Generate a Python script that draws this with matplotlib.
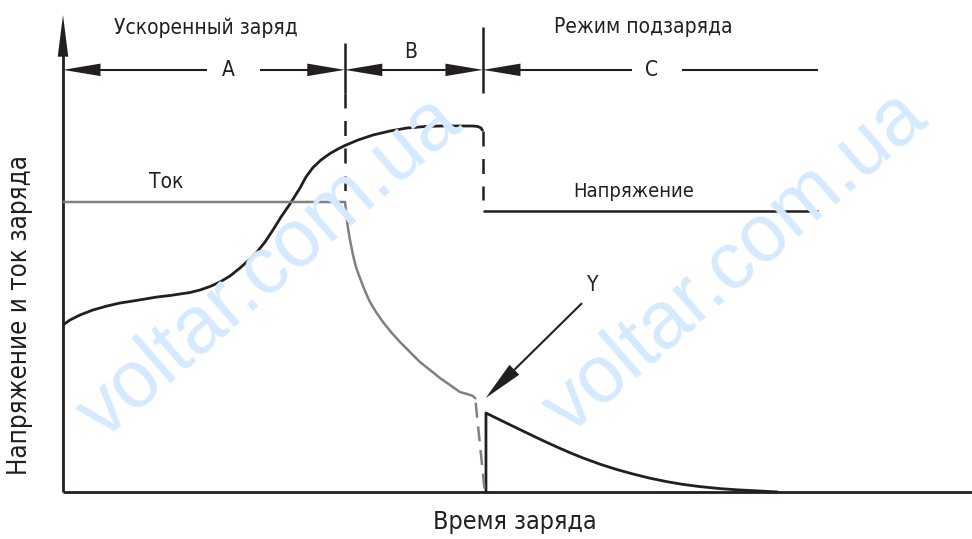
import matplotlib.pyplot as plt

# время заряда (0..100) и уровень (0..100)
volt_t = [0.0, 0.77, 1.87, 3.30, 4.84, 6.27, 7.70, 9.02, 10.34, 11.77, 12.87,
          13.97, 15.07, 16.17, 17.27, 18.37, 19.47, 20.57, 21.34, 22.22, 23.10,
          23.98, 24.97, 26.07, 26.73, 27.50, 28.38, 29.37, 30.25, 31.02, 32.45,
          34.10, 35.97, 37.84, 39.82, 41.47, 43.67, 45.10, 45.65, 45.98, 46.20]
volt_v = [35.01, 36.06, 37.11, 38.16, 38.99, 39.62, 40.04, 40.46, 40.88, 41.19,
          41.51, 41.82, 42.35, 43.08, 44.03, 45.28, 46.96, 48.85, 50.31, 52.41,
          54.93, 57.65, 60.38, 63.73, 66.04, 68.03, 69.60, 70.96, 71.91, 72.64,
          73.79, 74.84, 75.68, 76.31, 76.62, 76.73, 76.73, 76.73, 76.62, 76.31,
          75.68]

cur_t = [0.0, 31.02, 31.13, 31.24, 31.35, 31.57, 31.90, 32.23, 32.67, 33.22,
         33.77, 34.43, 35.20, 36.08, 37.07, 38.17, 39.27, 40.37, 41.47, 42.57,
         43.67, 44.44, 45.10, 45.43]
cur_v = [60.80, 60.80, 59.12, 57.02, 55.35, 52.83, 49.69, 47.17, 44.86, 42.14,
         39.83, 37.74, 35.64, 33.54, 31.45, 29.35, 27.25, 25.58, 23.90, 22.43,
         20.96, 20.55, 20.13, 19.50]

float_t = [46.2, 83.1]
float_v = [58.9, 58.9]

tail_t = [46.53, 46.53, 47.74, 48.95, 50.28, 51.71, 53.03, 54.46, 55.78, 57.21,
          59.08, 60.95, 62.71, 64.58, 66.45, 68.21, 70.08, 72.28, 74.48, 76.68,
          78.66]
tail_v = [0.0, 16.56, 15.43, 14.30, 13.08, 11.76, 10.57, 9.33, 8.24, 7.13,
          5.83, 4.70, 3.77, 2.89, 2.16, 1.59, 1.13, 0.71, 0.42, 0.21, 0.0]

stage_edges = [0.0, 31.0, 46.2, 83.1]
stage_names = ['A', 'B', 'C']

BLACK = '#231f20'
GRAY = '#808080'
plt.rcParams['font.family'] = ['DejaVu Sans']
plt.rcParams['font.stretch'] = 'condensed'

fig = plt.figure(figsize=(9.72, 5.39), dpi=100)
ax = fig.add_axes([63 / 972, 47 / 539, 909 / 972, 477 / 539])
ax.set_xlim(0, 100)
ax.set_ylim(0, 100)
ax.axis('off')

# водяные знаки
for xc, yc in [(270, 268), (736, 263)]:
    fig.text(xc / 972, 1 - yc / 539, 'voltar.com.ua', rotation=41,
             fontsize=58, color='#d6eaff', ha='center', va='center',
             family='Liberation Sans', stretch='normal', zorder=0)

kw = dict(clip_on=False, solid_capstyle='butt', solid_joinstyle='round')


def arrow(x0, y0, x1, y1, lw=1.5, hl=2.7, hw=0.45, cut=0.5):
    # стержень обрываем внутри наконечника, наконечник рисуем без обводки
    xm = x1 - (x1 - x0) * cut
    ym = y1 - (y1 - y0) * cut
    ax.plot([x0, xm], [y0, ym], color=BLACK, lw=lw, **kw)
    ax.annotate('', xy=(x1, y1), xytext=(x0, y0), annotation_clip=False,
                arrowprops=dict(arrowstyle=f'-|>,head_length={hl},head_width={hw}',
                                color=BLACK, lw=0, shrinkA=0, shrinkB=0))


# оси
ax.plot([0, 100], [0, 0], color=BLACK, lw=2.0, **kw)
arrow(0, 0, 0, 100, lw=2.0, hl=3.0, hw=0.38, cut=0.04)

# кривые
ax.plot(volt_t, volt_v, color=BLACK, lw=2.0, **kw)
ax.plot(cur_t, cur_v, color=GRAY, lw=1.8, **kw)
ax.plot(float_t, float_v, color=BLACK, lw=1.8, **kw)
ax.plot(tail_t, tail_v, color=BLACK, lw=2.0, **kw)
ax.plot([45.4, 46.4], [18.7, 0.0], color=GRAY, lw=1.8, dashes=(6, 3.5), **kw)

# границы этапов
t1, t2 = stage_edges[1], stage_edges[2]
ax.plot([t1, t1], [94.1, 83.6], color=BLACK, lw=1.8, **kw)
ax.plot([t1, t1], [83.6, 60.8], color=BLACK, lw=1.8, dashes=(6, 5),
        dash_capstyle='butt', clip_on=False)
ax.plot([t2, t2], [97.5, 83.6], color=BLACK, lw=1.8, **kw)
ax.plot([t2, t2], [volt_v[-1], 61.2], color=BLACK, lw=1.8, dashes=(6, 5),
        dash_capstyle='butt', clip_on=False)

# стрелки этапов
row = 88.5
tb = (t1 + t2) / 2
arrow(15.8, row, stage_edges[0], row, cut=0.13)
arrow(21.7, row, t1, row, cut=0.2)
arrow(tb, row, t1, row, cut=0.3)
arrow(tb, row, t2, row, cut=0.3)
arrow(62.6, row, t2, row, cut=0.12)
ax.plot([68.1, stage_edges[3]], [row, row], color=BLACK, lw=1.5, **kw)

fs = 15
ax.text(18.2, row, stage_names[0], fontsize=fs, ha='center', va='center', color=BLACK)
ax.text(38.2, 92.2, stage_names[1], fontsize=fs, ha='center', va='center', color=BLACK)
ax.text(64.8, row, stage_names[2], fontsize=fs, ha='center', va='center', color=BLACK)
ax.text(15.7, 97.3, 'Ускоренный заряд', fontsize=fs, ha='center', va='center', color=BLACK)
ax.text(63.8, 97.5, 'Режим подзаряда', fontsize=fs, ha='center', va='center', color=BLACK)
ax.text(11.4, 65.0, 'Ток', fontsize=fs, ha='center', va='center', color=BLACK)
ax.text(62.8, 62.9, 'Напряжение', fontsize=14.5, ha='center', va='center', color=BLACK)

# точка Y
arrow(57.1, 39.6, 46.5, 19.7, hl=2.9, hw=0.5, cut=0.2)
ax.text(58.3, 43.4, 'Y', fontsize=fs, ha='center', va='center', color=BLACK)

fig.text(515 / 972, 1 - 522 / 539, 'Время заряда', fontsize=18,
         ha='center', va='center', color=BLACK)
fig.text(20 / 972, 1 - 315 / 539, 'Напряжение и ток заряда', fontsize=18.5,
         rotation=90, ha='center', va='center', color=BLACK)

fig.savefig('out.png', dpi=100)
